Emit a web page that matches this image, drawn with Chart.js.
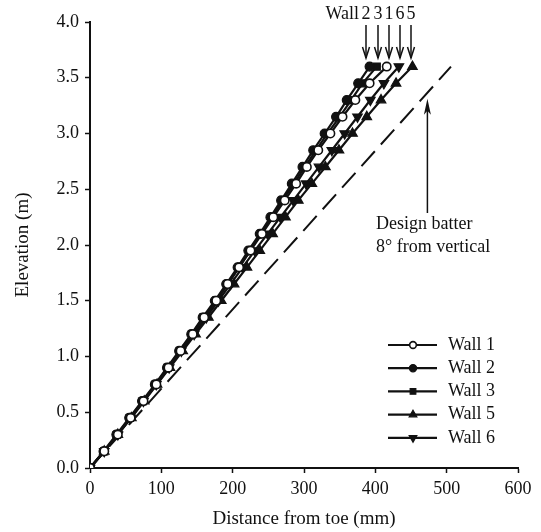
<!DOCTYPE html>
<html>
<head>
<meta charset="utf-8">
<script src="https://cdn.jsdelivr.net/npm/chart.js@4/dist/chart.umd.min.js"></script>
<style>
  html, body { margin: 0; padding: 0; background: #fff; }
  canvas { display: block; }
</style>
</head>
<body>
<canvas id="grafico" width="541" height="532"></canvas>
<script>
// elevation of each course (m), same for every wall
const elevacao = [0, 0.15, 0.3, 0.45, 0.6, 0.75, 0.9, 1.05, 1.2, 1.35, 1.5, 1.65, 1.8,
                  1.95, 2.1, 2.25, 2.4, 2.55, 2.7, 2.85, 3.0, 3.15, 3.3, 3.45, 3.6];

// distance from toe (mm) for each wall
const wall1 = [0, 20, 39, 57, 75, 93, 110, 127, 144, 160, 177, 193, 209, 225, 241, 257, 273, 289, 304, 320, 337, 354, 372, 392, 416];
const wall2 = [0, 19, 37, 55, 73, 91, 108, 125, 142, 158, 175, 191, 207, 222, 238, 253, 268, 283, 298, 313, 329, 345, 360, 376, 392];
const wall3 = [0, 20, 38, 56, 74, 92, 109, 126, 143, 159, 177, 193, 209, 224, 240, 255, 270, 286, 301, 317, 333, 350, 366, 382, 402];
const wall5 = [0, 20, 39, 58, 76, 94, 112, 130, 148, 166, 184, 202, 220, 238, 256, 274, 292, 311, 330, 349, 368, 388, 408, 429, 452];
const wall6 = [0, 20, 39, 57, 75, 93, 111, 128, 146, 163, 180, 197, 214, 231, 249, 267, 285, 303, 321, 339, 357, 375, 393, 412, 433];

// design batter line, 8 deg from vertical
const batterX = [0, 506];
const batterY = [0, 3.6];

const nomes = ['Wall 1', 'Wall 2', 'Wall 3', 'Wall 5', 'Wall 6'];
const xTicks = [0, 100, 200, 300, 400, 500, 600];
const yTicks = [0, 0.5, 1.0, 1.5, 2.0, 2.5, 3.0, 3.5, 4.0];

const FONTE = "'Liberation Serif', 'Times New Roman', serif";
const PRETO = '#111';

function pontos(xs) {
    return xs.map((x, i) => ({ x: x, y: elevacao[i] }));
}

function serie(nome, xs, estilo) {
    return Object.assign({
        label: nome,
        data: pontos(xs),
        showLine: true,
        borderColor: PRETO,
        backgroundColor: PRETO,
        borderWidth: 2.2,
        pointBorderColor: PRETO,
        pointBorderWidth: 1.2,
        pointRadius: 4.5,
        pointRotation: 0
    }, estilo);
}

const datasets = [
    serie(nomes[0], wall1, { pointStyle: 'circle', pointBackgroundColor: '#fff', pointRadius: 4.2, pointBorderWidth: 1.6 }),
    serie(nomes[1], wall2, { pointStyle: 'circle', pointBackgroundColor: PRETO }),
    serie(nomes[2], wall3, { pointStyle: 'rect', pointBackgroundColor: PRETO, pointRadius: 5 }),
    serie(nomes[3], wall5, { pointStyle: 'triangle', pointBackgroundColor: PRETO, pointRadius: 5.5 }),
    serie(nomes[4], wall6, { pointStyle: 'triangle', pointBackgroundColor: PRETO, pointRadius: 5.5, pointRotation: 180 }),
    {
        label: 'Design batter',
        data: batterX.map((x, i) => ({ x: x, y: batterY[i] })),
        showLine: true,
        borderColor: PRETO,
        borderWidth: 2,
        borderDash: [20, 9],
        pointRadius: 0
    }
];

// arrow helper
function seta(ctx, x, y1, y2, cabeca, largura) {
    ctx.beginPath();
    ctx.moveTo(x, y1);
    ctx.lineTo(x, y2);
    ctx.stroke();
    const dir = y2 > y1 ? 1 : -1;
    ctx.beginPath();
    ctx.moveTo(x - largura, y2 - dir * cabeca);
    ctx.lineTo(x, y2);
    ctx.lineTo(x + largura, y2 - dir * cabeca);
    ctx.stroke();
}

const anotacoes = {
    id: 'anotacoes',
    afterDatasetsDraw(chart) {
        const ctx = chart.ctx;
        const xs = chart.scales.x;
        const ys = chart.scales.y;
        ctx.save();
        ctx.fillStyle = PRETO;
        ctx.strokeStyle = PRETO;
        ctx.font = '18px ' + FONTE;
        ctx.textBaseline = 'middle';

        // wall numbers with arrows pointing at the top of each wall
        const ordem = ['2', '3', '1', '6', '5'];
        const posX = [366, 378, 389, 400, 411];
        ctx.textAlign = 'right';
        ctx.fillText('Wall', 359, 14);
        ctx.textAlign = 'center';
        ctx.lineWidth = 1.5;
        ordem.forEach((n, i) => {
            ctx.fillText(n, posX[i], 14);
            seta(ctx, posX[i], 25, 58, 11, 3.5);
        });

        // design batter label and arrow
        ctx.textAlign = 'left';
        ctx.fillText('Design batter', 376, 224);
        ctx.fillText('8\u00B0 from vertical', 376, 247);
        const ax = xs.getPixelForValue(473);
        const topo = ys.getPixelForValue(batterY[1] * 473 / batterX[1]) + 6;
        ctx.lineWidth = 1.5;
        ctx.beginPath();
        ctx.moveTo(ax, 213);
        ctx.lineTo(ax, topo + 10);
        ctx.stroke();
        ctx.beginPath();
        ctx.moveTo(ax, topo);
        ctx.lineTo(ax - 3.5, topo + 16);
        ctx.lineTo(ax, topo + 12);
        ctx.lineTo(ax + 3.5, topo + 16);
        ctx.closePath();
        ctx.fill();

        // legend: line with marker, then name
        for (let i = 0; i < 5; i++) {
            const ds = chart.data.datasets[i];
            const y = 345 + i * 23.2;
            ctx.lineWidth = 2.2;
            ctx.beginPath();
            ctx.moveTo(388, y);
            ctx.lineTo(437, y);
            ctx.stroke();
            ctx.fillStyle = ds.pointBackgroundColor;
            ctx.strokeStyle = PRETO;
            ctx.lineWidth = ds.pointBorderWidth;
            Chart.helpers.drawPoint(ctx, {
                pointStyle: ds.pointStyle,
                rotation: ds.pointRotation,
                radius: ds.pointRadius * 0.8,
                borderWidth: ds.pointBorderWidth
            }, 413, y);
            ctx.fillStyle = PRETO;
            ctx.textAlign = 'left';
            ctx.fillText(ds.label, 448, y);
        }
        ctx.restore();
    }
};

const eixo = {
    border: { display: true, color: PRETO, width: 2 },
    grid: { display: true, drawOnChartArea: false, drawTicks: true, tickLength: 5, color: PRETO, tickWidth: 1.5 }
};

const grafico = new Chart(document.getElementById('grafico').getContext('2d'), {
    type: 'scatter',
    data: { datasets: datasets },
    options: {
        responsive: false,
        animation: false,
        layout: { padding: { top: 22, right: 23, left: 0, bottom: 0 } },
        plugins: { legend: { display: false }, tooltip: { enabled: false } },
        scales: {
            x: Object.assign({}, eixo, {
                type: 'linear',
                min: 0,
                max: 600,
                afterFit: (s) => { s.height = 64; },
                afterBuildTicks: (s) => { s.ticks = xTicks.map(v => ({ value: v })); },
                ticks: { color: PRETO, padding: 5, font: { family: FONTE, size: 18 }, maxRotation: 0 },
                title: { display: true, text: 'Distance from toe (mm)', color: PRETO, font: { family: FONTE, size: 19 }, padding: { top: 2, bottom: 2 } }
            }),
            y: Object.assign({}, eixo, {
                type: 'linear',
                min: 0,
                max: 4,
                afterFit: (s) => { s.width = 90; },
                afterBuildTicks: (s) => { s.ticks = yTicks.map(v => ({ value: v })); },
                ticks: { color: PRETO, padding: 6, font: { family: FONTE, size: 18 }, callback: (v) => v.toFixed(1) },
                title: { display: true, text: 'Elevation (m)', color: PRETO, font: { family: FONTE, size: 19 }, padding: { top: 12, bottom: 2 } }
            })
        }
    },
    plugins: [anotacoes]
});
</script>
</body>
</html>
